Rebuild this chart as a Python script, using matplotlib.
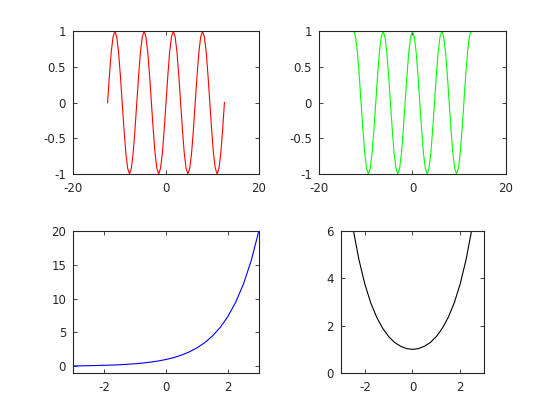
import matplotlib
matplotlib.use("Agg")
import matplotlib.pyplot as plt

# x samples for the trig panels (-4pi .. 4pi, step pi/8)
trig_x = [-12.566, -12.174, -11.781, -11.388, -10.996, -10.603, -10.210, -9.817,
          -9.425, -9.032, -8.639, -8.247, -7.854, -7.461, -7.069, -6.676,
          -6.283, -5.890, -5.498, -5.105, -4.712, -4.320, -3.927, -3.534,
          -3.142, -2.749, -2.356, -1.963, -1.571, -1.178, -0.785, -0.393,
          0.0, 0.393, 0.785, 1.178, 1.571, 1.963, 2.356, 2.749,
          3.142, 3.534, 3.927, 4.320, 4.712, 5.105, 5.498, 5.890,
          6.283, 6.676, 7.069, 7.461, 7.854, 8.247, 8.639, 9.032,
          9.425, 9.817, 10.210, 10.603, 10.996, 11.388, 11.781, 12.174, 12.566]

sin_y = [0, .38, .71, .92, 1, .92, .71, .38, 0, -.38, -.71, -.92, -1, -.92, -.71, -.38,
         0, .38, .71, .92, 1, .92, .71, .38, 0, -.38, -.71, -.92, -1, -.92, -.71, -.38,
         0, .38, .71, .92, 1, .92, .71, .38, 0, -.38, -.71, -.92, -1, -.92, -.71, -.38,
         0, .38, .71, .92, 1, .92, .71, .38, 0, -.38, -.71, -.92, -1, -.92, -.71, -.38,
         0]

cos_y = [1, .92, .71, .38, 0, -.38, -.71, -.92, -1, -.92, -.71, -.38, 0, .38, .71, .92,
         1, .92, .71, .38, 0, -.38, -.71, -.92, -1, -.92, -.71, -.38, 0, .38, .71, .92,
         1, .92, .71, .38, 0, -.38, -.71, -.92, -1, -.92, -.71, -.38, 0, .38, .71, .92,
         1, .92, .71, .38, 0, -.38, -.71, -.92, -1, -.92, -.71, -.38, 0, .38, .71, .92,
         1]

# x samples for the bottom panels (-3 .. 3, step 0.25)
low_x = [-3.0, -2.75, -2.5, -2.25, -2.0, -1.75, -1.5, -1.25, -1.0, -0.75, -0.5, -0.25,
         0.0, 0.25, 0.5, 0.75, 1.0, 1.25, 1.5, 1.75, 2.0, 2.25, 2.5, 2.75, 3.0]

exp_y = [0.05, 0.06, 0.08, 0.11, 0.14, 0.17, 0.22, 0.29, 0.37, 0.47, 0.61, 0.78,
         1.0, 1.28, 1.65, 2.12, 2.72, 3.49, 4.48, 5.75, 7.39, 9.49, 12.18, 15.64, 20.09]

cosh_y = [10.07, 7.85, 6.13, 4.80, 3.76, 2.96, 2.35, 1.89, 1.54, 1.29, 1.13, 1.03,
          1.0, 1.03, 1.13, 1.29, 1.54, 1.89, 2.35, 2.96, 3.76, 4.80, 6.13, 7.85, 10.07]

plt.rcParams['font.family'] = 'DejaVu Sans'
plt.rcParams['font.size'] = 8
plt.rcParams['axes.unicode_minus'] = False

fig = plt.figure(figsize=(5.6, 4.2), dpi=100)

ax1 = fig.add_axes([0.1304, 0.5857, 0.3321, 0.3400])
ax2 = fig.add_axes([0.5696, 0.5857, 0.3339, 0.3400])
ax3 = fig.add_axes([0.1304, 0.1119, 0.3321, 0.3381])
ax4 = fig.add_axes([0.6089, 0.1119, 0.2554, 0.3381])

ax1.plot(trig_x, sin_y, color=(1, 0, 0), lw=0.8)
ax1.set_xlim(-20, 20)
ax1.set_ylim(-1, 1)
ax1.set_xticks([-20, 0, 20])
ax1.set_yticks([-1, -0.5, 0, 0.5, 1])
ax1.set_yticklabels(['-1', '-0.5', '0', '0.5', '1'])

ax2.plot(trig_x, cos_y, color=(0, 1, 0), lw=0.8)
ax2.set_xlim(-20, 20)
ax2.set_ylim(-1, 1)
ax2.set_xticks([-20, 0, 20])
ax2.set_yticks([-1, -0.5, 0, 0.5, 1])
ax2.set_yticklabels(['-1', '-0.5', '0', '0.5', '1'])

ax3.plot(low_x, exp_y, color=(0, 0, 1), lw=0.8)
ax3.set_xlim(-3, 3)
ax3.set_ylim(-1, 20)
ax3.set_xticks([-2, 0, 2])
ax3.set_yticks([0, 5, 10, 15, 20])

ax4.plot(low_x, cosh_y, color='black', lw=0.8)
ax4.set_xlim(-3, 3)
ax4.set_ylim(0, 6)
ax4.set_xticks([-2, 0, 2])
ax4.set_yticks([0, 2, 4, 6])

for ax in (ax1, ax2, ax3, ax4):
    ax.tick_params(direction='in', length=3, width=0.6, top=True, right=True,
                   colors='#262626', labelcolor='#262626', labelsize=8.5)
    ax.tick_params(axis='x', pad=5.5)
    ax.tick_params(axis='y', pad=5)
    for sp in ax.spines.values():
        sp.set_linewidth(0.8)
        sp.set_color('#262626')

fig.savefig('out.png', dpi=100)
